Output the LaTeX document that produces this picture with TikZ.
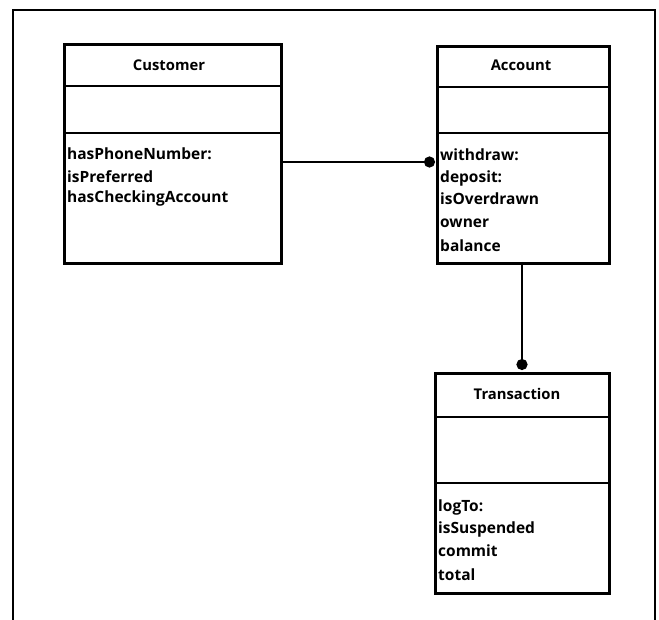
\documentclass[tikz,border=0pt]{standalone}
\usepackage{fontspec}
\setmainfont{Open Sans}
\usetikzlibrary{arrows.meta}
\tikzset{
  classbox/.style={draw, line width=2.8pt, rectangle, anchor=north west, inner sep=0pt},
  sep/.style={line width=2.8pt},
  title/.style={font=\bfseries\fontsize{14.8}{16}\selectfont, inner sep=0pt},
  member/.style={font=\bfseries\fontsize{15.5}{16}\selectfont, anchor=west, inner sep=0pt},
  assoc/.style={line width=2.8pt, -{Circle[length=11pt,width=11pt]}},
  frame/.style={line width=2pt}
}
\begin{document}
\begin{tikzpicture}[x=1pt,y=-1pt]
\useasboundingbox (0,0) rectangle (659,620);
\draw[frame] (13,620) -- (13,10) -- (655,10) -- (655,620);
% Customer
\node[classbox, minimum width=217pt, minimum height=219pt] (cust) at (63,43) {};
\draw[sep] (63,86) -- (280,86);
\draw[sep] (63,133) -- (280,133);
\node[title] (custT) at (169,65) {Customer};
\node[member] (c1) at (67,154) {hasPhoneNumber:};
\node[member] (c2) at (67,177) {isPreferred};
\node[member] (c3) at (67,198) {hasCheckingAccount};
% Account
\node[classbox, minimum width=172pt, minimum height=217pt] (acct) at (436,45) {};
\draw[sep] (436,87) -- (608,87);
\draw[sep] (436,133) -- (608,133);
\node[title] (acctT) at (521,65) {Account};
\node[member] (a1) at (440,155) {withdraw:};
\node[member] (a2) at (440,178) {deposit:};
\node[member] (a3) at (440,199) {isOverdrawn};
\node[member] (a4) at (440,223) {owner};
\node[member] (a5) at (440,246) {balance};
% Transaction
\node[classbox, minimum width=174pt, minimum height=220pt] (trans) at (434,372) {};
\draw[sep] (434,417) -- (608,417);
\draw[sep] (434,483) -- (608,483);
\node[title] (transT) at (517,394) {Transaction};
\node[member] (t1) at (438,507) {logTo:};
\node[member] (t2) at (438,529) {isSuspended};
\node[member] (t3) at (438,551) {commit};
\node[member] (t4) at (438,575) {total};
% connectors
\coordinate (cp) at (280,162);
\coordinate (ap) at (435,162);
\draw[assoc] (cp) -- (ap);
\coordinate (as) at (522,262);
\coordinate (tn) at (522,370);
\draw[assoc] (as) -- (tn);
\end{tikzpicture}
\end{document}
